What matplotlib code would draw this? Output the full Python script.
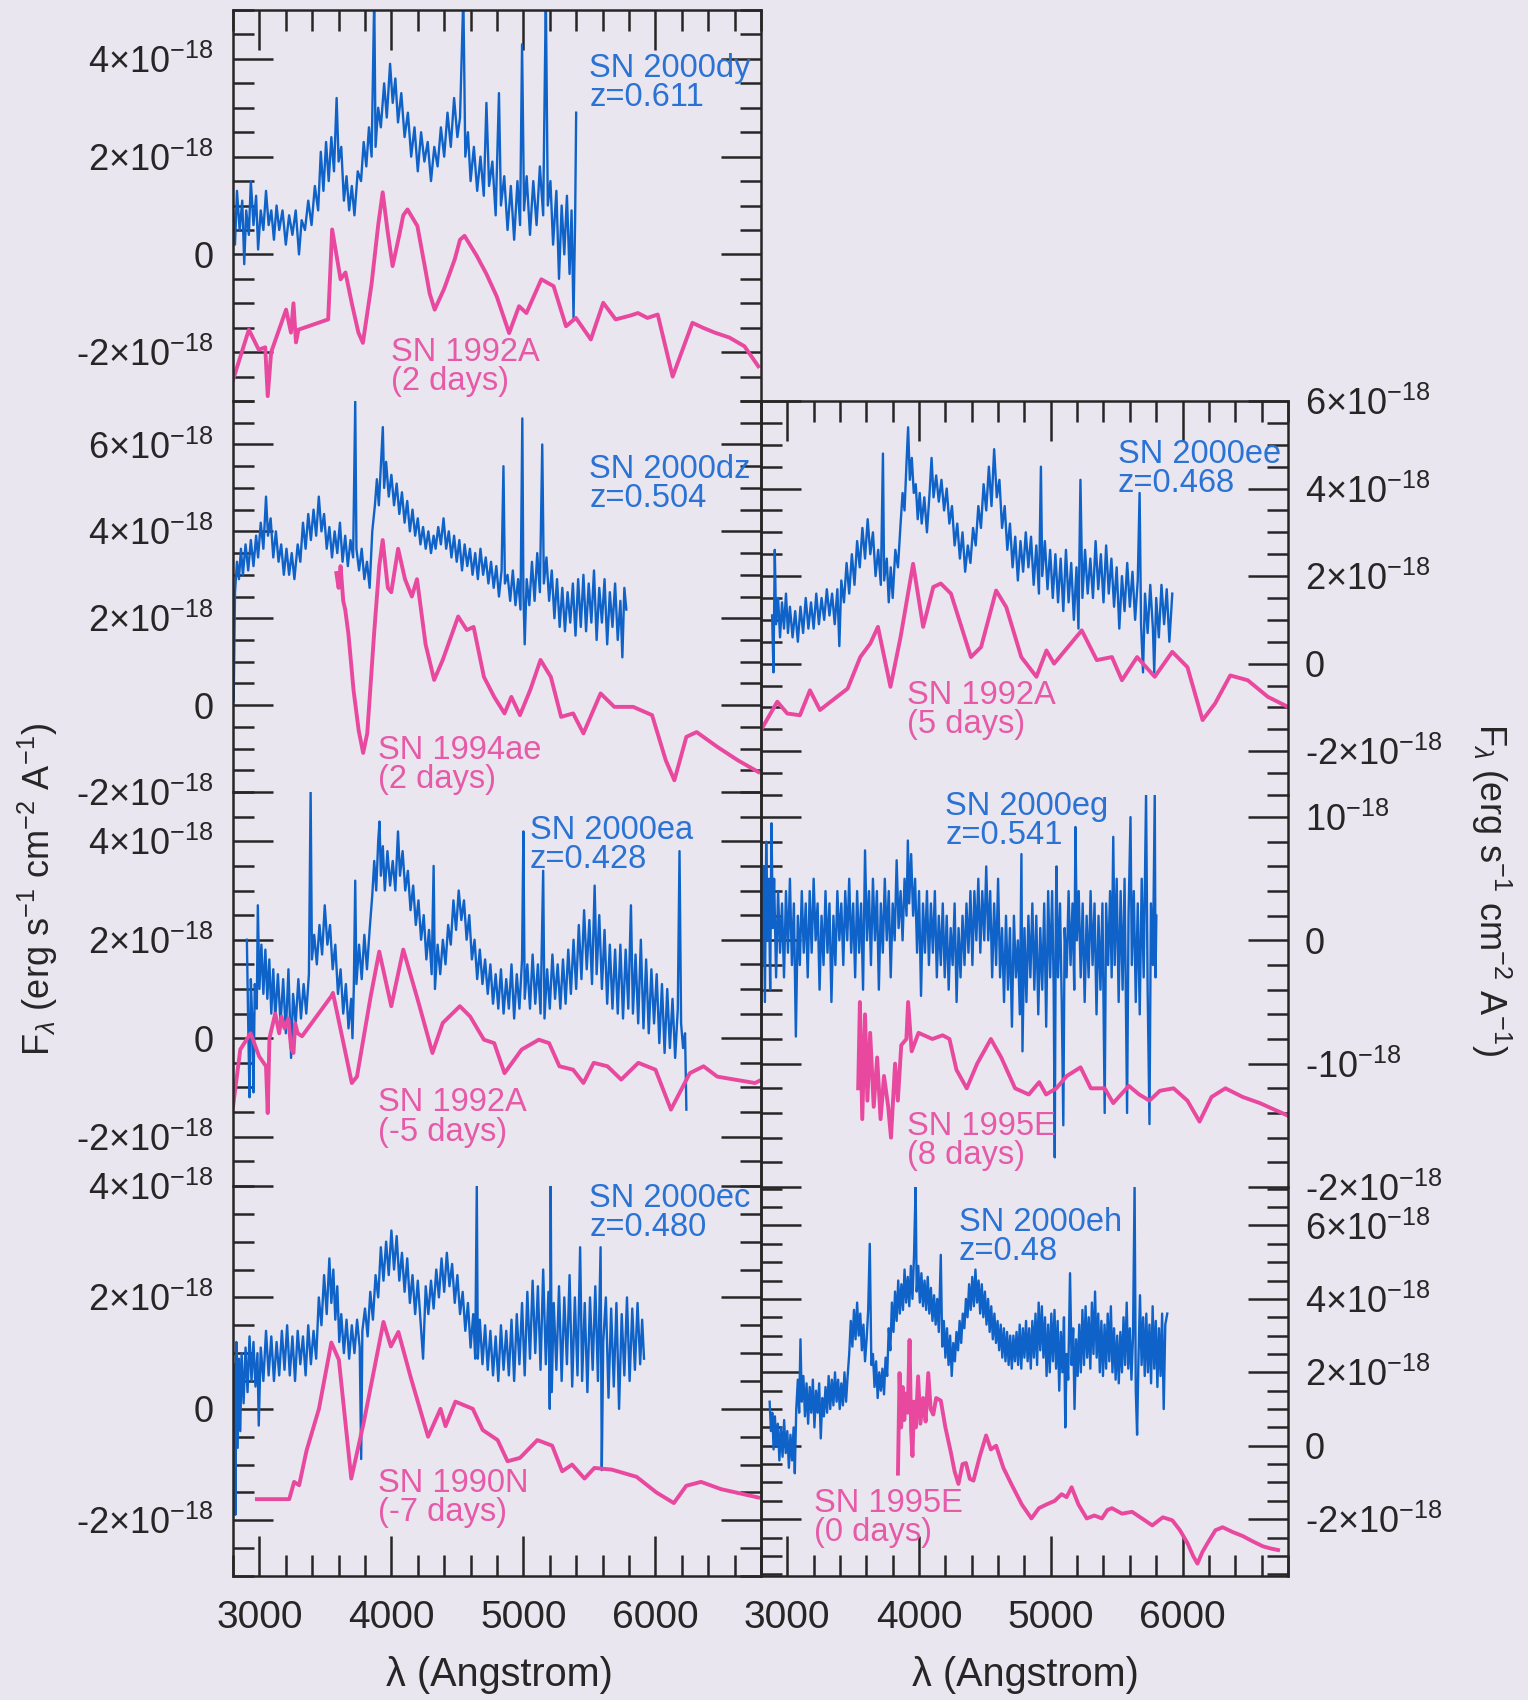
import matplotlib
matplotlib.use("Agg")
import matplotlib.pyplot as plt
from matplotlib.ticker import MultipleLocator, FuncFormatter

plt.rcParams['font.family'] = ['Liberation Sans', 'DejaVu Sans']
plt.rcParams['mathtext.fontset'] = 'custom'
plt.rcParams['mathtext.rm'] = 'Liberation Sans'
plt.rcParams['mathtext.it'] = 'Liberation Sans:italic'
plt.rcParams['mathtext.bf'] = 'Liberation Sans:bold'

BG = '#e9e6ef'
INK = '#262626'
BLUE = '#0f62c8'
BLUE_TXT = '#2a72d4'
PINK = '#e8489e'
PINK_TXT = '#e65aa8'

# flux in units of 1e-18 erg/s/cm^2/A, wavelength in Angstrom (rest frame)

# --- SN 2000dy (z=0.611) vs SN 1992A (+2 d)
dy = [(2800, 0.9), (2815, 0.2), (2830, 1.3), (2850, 0.5), (2870, 1.1), (2885, -0.2), (2900, 0.9),
      (2920, 0.4), (2935, 1.5), (2955, 0.6), (2975, 1.2), (2990, 0.1), (3010, 0.9), (3030, 0.5),
      (3050, 1.3), (3070, 0.6), (3090, 0.9), (3110, 0.3), (3130, 1.0), (3150, 0.5), (3175, 0.9),
      (3200, 0.2), (3225, 0.8), (3250, 0.4), (3275, 0.9), (3300, 0.0), (3320, 0.7), (3345, 0.5),
      (3370, 1.1), (3395, 0.6), (3420, 1.4), (3445, 0.9), (3465, 2.1), (3485, 1.3), (3505, 2.3),
      (3525, 1.5), (3545, 2.4), (3565, 1.7), (3585, 3.2), (3600, 1.9), (3620, 2.2), (3640, 1.1),
      (3660, 1.6), (3680, 0.9), (3700, 1.4), (3720, 0.8), (3745, 1.7), (3770, 1.5), (3790, 2.3),
      (3810, 1.8), (3830, 2.6), (3850, 2.0), (3870, 5.3), (3880, 2.2), (3900, 3.0), (3920, 2.6),
      (3945, 3.5), (3965, 2.8), (3990, 3.9), (4010, 3.1), (4030, 3.6), (4050, 2.7), (4075, 3.3),
      (4100, 2.4), (4125, 2.9), (4150, 2.0), (4175, 2.6), (4200, 1.7), (4225, 2.5), (4250, 1.9),
      (4275, 2.3), (4300, 1.5), (4325, 2.2), (4350, 1.8), (4375, 2.6), (4400, 2.0), (4425, 2.9),
      (4450, 2.2), (4475, 3.2), (4500, 2.4), (4520, 2.8), (4545, 5.3), (4560, 2.0), (4580, 2.5),
      (4600, 1.5), (4625, 2.2), (4650, 1.3), (4675, 2.0), (4700, 1.2), (4720, 3.1), (4740, 1.4),
      (4765, 1.9), (4790, 0.8), (4815, 3.3), (4830, 1.0), (4855, 1.6), (4880, 0.5), (4905, 1.4),
      (4930, 0.3), (4955, 1.5), (4975, 0.6), (4990, 4.3), (5005, 0.9), (5025, 1.6), (5050, 0.4),
      (5075, 1.5), (5100, 0.6), (5125, 1.8), (5150, 0.8), (5170, 5.3), (5185, 1.0), (5205, 1.5),
      (5225, 0.2), (5250, 1.3), (5270, -0.5), (5290, 1.0), (5310, 0.0), (5330, 1.2), (5350, -0.4),
      (5365, 0.9), (5380, -1.3), (5392, 0.7), (5400, 2.9)]
sn92a_p2 = [(2800, -2.57), (2920, -1.54), (2995, -1.95), (3044, -1.9), (3063, -2.9), (3089, -2.0),
            (3202, -1.13), (3239, -1.6), (3258, -1.0), (3277, -1.8), (3296, -1.54), (3521, -1.33),
            (3551, 0.51), (3615, -0.51), (3652, -0.37), (3700, -1.0), (3750, -1.6), (3784, -1.81),
            (3850, -0.6), (3900, 0.6), (3934, 1.27), (3970, 0.5), (4009, -0.24), (4060, 0.4),
            (4090, 0.8), (4122, 0.92), (4197, 0.58), (4250, -0.2), (4290, -0.8), (4328, -1.13),
            (4400, -0.7), (4480, -0.1), (4520, 0.3), (4554, 0.38), (4647, -0.03), (4720, -0.4),
            (4798, -0.86), (4892, -1.61), (4967, -1.06), (5023, -1.2), (5136, -0.51), (5229, -0.65),
            (5323, -1.47), (5398, -1.3), (5511, -1.74), (5605, -0.99), (5699, -1.33), (5812, -1.25),
            (5868, -1.2), (5940, -1.3), (6018, -1.23), (6131, -2.5), (6281, -1.4), (6360, -1.5),
            (6450, -1.6), (6560, -1.7), (6675, -1.88), (6780, -2.29)]

# --- SN 2000dz (z=0.504) vs SN 1994ae (+2 d)
dz = [(2805, 0.1), (2815, 2.6), (2830, 3.3), (2845, 2.9), (2860, 3.6), (2875, 3.0), (2895, 3.7),
      (2915, 3.1), (2935, 3.8), (2955, 3.2), (2975, 3.9), (2990, 3.4), (3010, 4.2), (3030, 3.6),
      (3050, 4.8), (3065, 3.9), (3085, 4.3), (3105, 3.4), (3125, 4.0), (3145, 3.3), (3165, 3.7),
      (3185, 3.0), (3205, 3.6), (3225, 3.0), (3245, 3.5), (3265, 2.9), (3290, 3.7), (3310, 3.3),
      (3330, 4.2), (3350, 3.6), (3370, 4.4), (3390, 3.8), (3410, 4.5), (3430, 3.9), (3450, 4.8),
      (3470, 4.0), (3490, 4.4), (3510, 3.6), (3530, 4.1), (3550, 3.4), (3570, 4.0), (3590, 3.5),
      (3610, 4.2), (3630, 3.3), (3650, 3.9), (3670, 3.2), (3690, 3.8), (3710, 3.4), (3726, 7.0),
      (3735, 3.6), (3755, 3.1), (3775, 3.6), (3795, 2.9), (3815, 3.3), (3835, 2.7), (3855, 4.0),
      (3875, 4.6), (3890, 5.2), (3905, 4.6), (3920, 5.5), (3935, 6.4), (3945, 5.0), (3960, 5.6),
      (3980, 4.8), (4000, 5.3), (4020, 4.6), (4040, 5.1), (4060, 4.4), (4080, 4.9), (4100, 4.2),
      (4120, 4.7), (4140, 4.0), (4160, 4.5), (4180, 3.9), (4200, 4.3), (4220, 3.7), (4240, 4.1),
      (4260, 3.6), (4280, 4.0), (4300, 3.5), (4320, 3.9), (4335, 3.6), (4355, 4.1), (4375, 3.7),
      (4395, 4.3), (4415, 3.6), (4435, 4.0), (4455, 3.4), (4475, 3.9), (4495, 3.3), (4515, 3.8),
      (4535, 3.1), (4555, 3.7), (4575, 3.2), (4595, 3.6), (4615, 3.0), (4635, 3.5), (4655, 2.9),
      (4675, 3.6), (4695, 3.0), (4715, 3.4), (4735, 2.8), (4755, 3.3), (4775, 2.7), (4795, 3.2),
      (4815, 2.5), (4835, 3.1), (4849, 5.5), (4860, 2.8), (4880, 3.0), (4900, 2.4), (4920, 3.1),
      (4940, 2.3), (4960, 2.9), (4978, 2.2), (4992, 6.6), (5000, 2.6), (5010, 1.4), (5025, 2.9),
      (5045, 2.3), (5065, 3.3), (5085, 2.4), (5105, 3.5), (5125, 2.6), (5143, 6.0), (5155, 2.8),
      (5175, 3.4), (5195, 2.4), (5215, 3.1), (5235, 2.0), (5255, 2.9), (5275, 1.8), (5295, 2.7),
      (5315, 1.7), (5335, 2.6), (5355, 1.9), (5375, 2.8), (5395, 1.6), (5415, 2.9), (5435, 1.8),
      (5455, 3.0), (5475, 1.7), (5495, 2.8), (5515, 1.9), (5535, 3.1), (5555, 1.5), (5575, 2.7),
      (5595, 1.9), (5615, 2.9), (5635, 1.4), (5655, 2.6), (5675, 1.8), (5695, 2.8), (5715, 1.5),
      (5735, 2.4), (5750, 1.1), (5765, 2.7), (5780, 2.2)]
sn94ae = [(3583, 3.04), (3600, 2.7), (3615, 3.2), (3635, 2.4), (3650, 2.2), (3674, 1.65),
          (3713, 0.35), (3752, -0.58), (3786, -1.1), (3817, -0.65), (3869, 1.65), (3908, 3.2),
          (3934, 3.8), (3973, 2.7), (3999, 2.6), (4051, 3.6), (4103, 2.9), (4155, 2.5), (4194, 2.9),
          (4259, 1.4), (4324, 0.58), (4389, 1.04), (4506, 2.04), (4571, 1.73), (4623, 1.8),
          (4701, 0.65), (4779, 0.19), (4857, -0.19), (4909, 0.19), (4974, -0.23), (5052, 0.35),
          (5130, 1.04), (5208, 0.65), (5286, -0.27), (5377, -0.19), (5455, -0.65), (5585, 0.27),
          (5689, -0.04), (5832, -0.04), (5975, -0.23), (6079, -1.27), (6144, -1.73), (6235, -0.73),
          (6313, -0.62), (6469, -0.96), (6625, -1.27), (6781, -1.54)]

# --- SN 2000ea (z=0.428) vs SN 1992A (-5 d)
ea = [(2905, 2.0), (2915, 0.3), (2925, -1.2), (2935, 1.2), (2945, 0.4), (2955, -1.1), (2965, 1.1),
      (2980, 0.6), (2988, 2.7), (3000, 1.0), (3015, 1.9), (3030, 0.9), (3045, 1.8), (3060, 0.8),
      (3075, 1.6), (3090, 0.5), (3105, 1.4), (3120, 0.4), (3140, 1.3), (3160, 0.3), (3180, 1.2),
      (3200, 0.1), (3220, 1.4), (3240, -0.4), (3255, 0.9), (3275, 0.3), (3295, 1.2), (3315, 0.4),
      (3335, 1.1), (3355, 0.5), (3375, 1.3), (3388, 5.0), (3398, 1.6), (3415, 2.1), (3435, 1.5),
      (3455, 2.3), (3475, 1.7), (3495, 2.7), (3515, 1.9), (3535, 2.3), (3555, 1.4), (3575, 1.9),
      (3595, 0.9), (3615, 1.4), (3635, 0.5), (3655, 1.1), (3675, 0.2), (3695, 0.8), (3705, 0.0),
      (3715, 1.0), (3726, 3.2), (3735, 1.1), (3755, 1.9), (3775, 1.2), (3795, 2.1), (3815, 1.4),
      (3835, 2.2), (3855, 2.9), (3870, 3.6), (3885, 3.0), (3900, 4.0), (3910, 4.4), (3920, 3.3),
      (3935, 3.9), (3950, 3.0), (3970, 3.8), (3990, 3.1), (4010, 3.6), (4030, 3.0), (4050, 4.2),
      (4065, 3.3), (4085, 3.8), (4105, 3.0), (4125, 3.4), (4145, 2.6), (4165, 3.1), (4185, 2.3),
      (4205, 2.8), (4225, 2.0), (4245, 2.5), (4265, 1.6), (4285, 2.2), (4305, 1.3), (4320, 3.5),
      (4330, 1.0), (4350, 1.9), (4370, 1.3), (4390, 2.0), (4410, 1.5), (4430, 2.3), (4450, 1.9),
      (4470, 2.8), (4490, 2.2), (4510, 3.0), (4530, 2.4), (4550, 2.8), (4570, 2.0), (4590, 2.5),
      (4610, 1.6), (4630, 2.0), (4650, 1.2), (4670, 1.8), (4690, 1.1), (4710, 1.6), (4730, 0.9),
      (4750, 1.5), (4770, 0.7), (4790, 1.3), (4810, 0.6), (4830, 1.4), (4850, 0.5), (4870, 1.2),
      (4890, 0.6), (4910, 1.5), (4930, 0.4), (4950, 1.3), (4970, 0.6), (4990, 1.6), (5000, 4.2),
      (5010, 0.8), (5030, 1.5), (5050, 0.6), (5070, 1.7), (5090, 0.7), (5110, 1.5), (5130, 0.5),
      (5150, 3.4), (5160, 0.4), (5180, 1.4), (5200, 0.6), (5220, 1.7), (5240, 0.8), (5260, 1.5),
      (5280, 0.6), (5300, 1.6), (5320, 0.7), (5340, 1.8), (5360, 0.9), (5380, 2.0), (5400, 1.0),
      (5420, 2.3), (5440, 1.2), (5460, 2.6), (5480, 1.4), (5500, 2.4), (5520, 1.1), (5540, 3.1),
      (5555, 1.3), (5575, 2.5), (5595, 1.0), (5615, 2.2), (5635, 0.7), (5655, 1.9), (5675, 0.6),
      (5695, 1.8), (5715, 0.5), (5735, 1.9), (5755, 0.4), (5775, 1.8), (5795, 0.6), (5815, 2.7),
      (5830, 0.5), (5850, 1.7), (5870, 0.3), (5890, 2.0), (5910, 0.2), (5930, 1.6), (5950, 0.1),
      (5970, 1.4), (5990, 0.3), (6010, 1.3), (6030, -0.1), (6050, 1.1), (6070, -0.3), (6090, 1.0),
      (6110, -0.2), (6130, 0.8), (6150, -0.4), (6170, 0.6), (6183, 3.8), (6195, 0.3), (6210, -0.2),
      (6225, 0.1), (6235, -1.45)]
sn92a_m5 = [(2800, -1.39), (2855, -0.23), (2933, 0.1), (2998, -0.37), (3050, -0.57), (3063, -1.52),
            (3076, 0.0), (3120, 0.5), (3150, 0.1), (3167, 0.44), (3190, 0.2), (3219, 0.4),
            (3240, -0.2), (3258, -0.3), (3271, 0.3), (3290, 0.1), (3323, 0.04), (3544, 0.85),
            (3557, 0.92), (3700, -0.91), (3739, -0.78), (3843, 0.85), (3908, 1.76), (3999, 0.65),
            (4090, 1.8), (4207, 0.71), (4311, -0.3), (4389, 0.31), (4519, 0.65), (4597, 0.44),
            (4701, -0.03), (4779, -0.1), (4857, -0.71), (4987, -0.23), (5117, -0.03), (5195, -0.1),
            (5273, -0.57), (5377, -0.64), (5455, -0.91), (5533, -0.5), (5637, -0.57), (5741, -0.84),
            (5871, -0.5), (6001, -0.64), (6118, -1.45), (6261, -0.71), (6365, -0.57), (6469, -0.78),
            (6599, -0.84), (6755, -0.91), (6800, -0.85)]

# --- SN 2000ec (z=0.480) vs SN 1990N (-7 d)
ec = [(2812, 0.8), (2818, -1.9), (2825, 1.2), (2835, -0.7), (2845, 0.9), (2855, -0.4), (2865, 1.0),
      (2880, 0.1), (2895, 1.1), (2910, 0.3), (2925, 1.3), (2940, 0.5), (2955, 1.2), (2970, 0.4),
      (2985, 1.0), (2995, -0.3), (3010, 1.1), (3030, 0.5), (3050, 1.4), (3070, 0.6), (3090, 1.3),
      (3110, 0.5), (3130, 1.2), (3150, 0.6), (3170, 1.4), (3190, 0.7), (3210, 1.5), (3230, 0.6),
      (3250, 1.3), (3270, 0.5), (3290, 1.4), (3310, 0.8), (3330, 1.3), (3350, 0.6), (3370, 1.5),
      (3390, 0.8), (3410, 1.4), (3430, 0.9), (3450, 2.0), (3470, 1.5), (3490, 2.4), (3510, 1.7),
      (3530, 2.7), (3545, 1.9), (3560, 2.5), (3575, 1.6), (3590, 2.2), (3605, 1.2), (3620, 1.7),
      (3640, 1.0), (3660, 1.6), (3680, 0.9), (3700, 1.5), (3720, 1.0), (3740, 1.6), (3760, 1.1),
      (3771, -0.9), (3780, 1.4), (3800, 1.8), (3820, 1.3), (3840, 2.1), (3860, 1.6), (3880, 2.4),
      (3900, 2.0), (3920, 2.9), (3940, 2.3), (3960, 3.0), (3980, 2.4), (4000, 3.2), (4020, 2.5),
      (4040, 3.1), (4060, 2.3), (4080, 2.8), (4100, 2.1), (4120, 2.7), (4140, 1.9), (4160, 2.4),
      (4180, 1.7), (4200, 2.3), (4220, 1.6), (4240, 0.9), (4260, 2.2), (4280, 1.7), (4300, 2.3),
      (4320, 1.8), (4340, 2.5), (4360, 2.0), (4380, 2.7), (4400, 2.1), (4420, 2.8), (4440, 2.2),
      (4460, 2.6), (4480, 1.9), (4500, 2.4), (4520, 1.7), (4540, 2.1), (4560, 1.4), (4580, 1.9),
      (4600, 1.1), (4620, 1.7), (4635, 0.9), (4647, 4.0), (4655, 0.9), (4670, 1.6), (4690, 0.8),
      (4710, 1.5), (4730, 0.7), (4750, 1.4), (4770, 0.6), (4790, 1.3), (4810, 0.5), (4830, 1.5),
      (4850, 0.7), (4870, 1.4), (4890, 0.6), (4910, 1.6), (4930, 0.5), (4950, 1.7), (4970, 0.8),
      (4990, 1.9), (5010, 0.6), (5030, 2.1), (5050, 0.9), (5070, 2.3), (5090, 1.0), (5110, 2.2),
      (5130, 0.7), (5150, 2.5), (5170, 0.8), (5190, 2.1), (5200, 0.0), (5207, 4.0), (5215, 0.3),
      (5230, 1.9), (5250, 0.7), (5270, 2.2), (5290, 0.5), (5310, 2.0), (5330, 0.8), (5350, 2.4),
      (5370, 0.4), (5390, 2.0), (5410, 0.6), (5430, 2.9), (5445, 0.5), (5465, 1.9), (5485, 0.3),
      (5505, 2.0), (5525, 0.7), (5545, 2.2), (5565, 0.5), (5585, 2.9), (5594, -1.1), (5605, 1.2),
      (5625, 2.0), (5645, 0.2), (5665, 1.8), (5685, 0.4), (5705, 1.9), (5725, 0.0), (5745, 1.7),
      (5765, 0.6), (5785, 2.0), (5805, 0.5), (5825, 1.8), (5845, 0.7), (5865, 1.9), (5885, 0.8),
      (5900, 1.6), (5914, 0.9)]
sn90n = [(2981, -1.62), (3226, -1.62), (3263, -1.31), (3301, -1.37), (3357, -0.75), (3451, 0.0),
         (3545, 1.19), (3602, 0.88), (3696, -1.25), (3790, -0.25), (3940, 1.56), (3996, 1.12),
         (4053, 1.38), (4147, 0.56), (4278, -0.5), (4372, 0.0), (4410, -0.31), (4485, 0.13),
         (4617, 0.0), (4692, -0.38), (4805, -0.56), (4880, -0.94), (4974, -0.88), (5106, -0.56),
         (5218, -0.66), (5294, -1.12), (5369, -1.0), (5463, -1.25), (5538, -1.06), (5670, -1.09),
         (5858, -1.22), (6008, -1.5), (6140, -1.69), (6234, -1.38), (6346, -1.31), (6497, -1.44),
         (6779, -1.59)]

# --- SN 2000ee (z=0.468) vs SN 1992A (+5 d)
ee = [(2885, 1.1), (2895, -0.2), (2905, 2.6), (2915, 0.9), (2930, 1.5), (2945, 0.6), (2960, 1.4),
      (2975, 0.8), (2990, 1.6), (3005, 0.7), (3020, 1.3), (3040, 0.6), (3060, 1.2), (3080, 0.5),
      (3100, 1.3), (3120, 0.7), (3140, 1.5), (3160, 0.8), (3180, 1.4), (3200, 0.8), (3220, 1.6),
      (3240, 0.9), (3260, 1.5), (3280, 1.0), (3300, 1.7), (3320, 1.1), (3340, 1.6), (3360, 0.9),
      (3380, 1.7), (3395, 0.4), (3410, 1.9), (3430, 1.4), (3450, 2.3), (3470, 1.6), (3490, 2.5),
      (3510, 1.8), (3530, 2.8), (3550, 2.2), (3570, 3.1), (3590, 2.4), (3610, 3.3), (3630, 2.5),
      (3650, 3.0), (3670, 2.0), (3690, 2.6), (3710, 1.8), (3726, 4.8), (3735, 1.9), (3755, 2.4),
      (3770, 1.4), (3785, 2.2), (3800, 1.5), (3820, 2.6), (3840, 2.2), (3860, 3.2), (3875, 3.9),
      (3890, 3.5), (3905, 4.6), (3917, 5.4), (3930, 4.2), (3945, 4.7), (3960, 3.9), (3975, 4.1),
      (3990, 3.3), (4005, 3.9), (4020, 3.2), (4040, 3.8), (4060, 3.0), (4080, 3.9), (4095, 4.7),
      (4110, 3.8), (4130, 4.3), (4150, 3.7), (4170, 4.2), (4190, 3.5), (4210, 4.0), (4230, 3.2),
      (4250, 3.6), (4270, 2.7), (4290, 3.2), (4310, 2.4), (4330, 3.0), (4350, 2.1), (4370, 2.7),
      (4390, 2.3), (4410, 3.1), (4430, 2.7), (4450, 3.6), (4470, 3.1), (4490, 4.1), (4510, 3.5),
      (4530, 4.5), (4550, 3.6), (4570, 4.9), (4590, 3.8), (4610, 4.2), (4630, 3.1), (4650, 3.6),
      (4670, 2.6), (4690, 3.2), (4710, 2.2), (4730, 2.9), (4750, 1.9), (4770, 2.8), (4790, 2.1),
      (4810, 3.0), (4830, 2.2), (4850, 2.9), (4870, 1.8), (4890, 2.7), (4910, 1.6), (4925, 4.5),
      (4935, 2.0), (4955, 2.8), (4975, 1.7), (4995, 2.6), (5015, 1.5), (5035, 2.5), (5055, 1.4),
      (5075, 2.4), (5095, 1.2), (5115, 2.6), (5135, 1.4), (5155, 2.3), (5175, 1.0), (5195, 2.2),
      (5210, 0.8), (5225, 4.2), (5240, 1.5), (5260, 2.6), (5280, 1.6), (5300, 2.4), (5320, 1.5),
      (5340, 2.8), (5360, 1.7), (5380, 2.5), (5400, 1.4), (5420, 2.7), (5440, 1.6), (5460, 2.4),
      (5480, 1.3), (5500, 2.2), (5520, 0.8), (5540, 2.0), (5560, 1.2), (5580, 2.3), (5600, 1.3),
      (5620, 2.1), (5640, 1.0), (5660, 1.9), (5674, 3.9), (5685, 0.9), (5700, -0.2), (5715, 1.6),
      (5735, 0.7), (5755, 1.8), (5775, 0.8), (5785, -0.2), (5800, 1.5), (5820, 0.6), (5840, 1.8),
      (5860, 0.9), (5880, 1.7), (5900, 0.5), (5922, 1.6)]
sn92a_p5 = [(2800, -1.52), (2924, -0.87), (3000, -1.14), (3096, -1.18), (3172, -0.61), (3248, -1.06),
            (3458, -0.57), (3554, 0.15), (3630, 0.46), (3688, 0.84), (3783, -0.53), (3860, 0.61),
            (3955, 2.28), (4031, 0.84), (4108, 1.75), (4165, 1.83), (4242, 1.6), (4394, 0.15),
            (4471, 0.38), (4585, 1.67), (4662, 1.29), (4776, 0.15), (4891, -0.3), (4967, 0.3),
            (5025, 0.0), (5235, 0.76), (5349, 0.08), (5464, 0.15), (5540, -0.38), (5655, 0.15),
            (5789, -0.3), (5922, 0.27), (6037, -0.08), (6152, -1.29), (6247, -0.91), (6362, -0.27),
            (6495, -0.38), (6648, -0.76), (6801, -0.99)]

# --- SN 2000eg (z=0.541) vs SN 1995E (+8 d)
eg = [(2800, 0.9), (2810, -0.2), (2820, 0.6), (2830, -0.5), (2840, 0.8), (2850, 0.0), (2860, 0.5),
      (2870, -0.4), (2880, 0.95), (2890, 0.1), (2900, 0.5), (2915, -0.3), (2930, 0.4), (2945, -0.1),
      (2960, 0.3), (2975, -0.3), (2990, 0.4), (3005, -0.1), (3020, 0.5), (3035, -0.2), (3050, 0.3),
      (3065, -0.78), (3080, 0.2), (3095, -0.2), (3110, 0.4), (3125, -0.1), (3140, 0.3), (3155, -0.3),
      (3170, 0.4), (3185, -0.1), (3200, 0.5), (3215, 0.0), (3230, 0.3), (3245, -0.4), (3260, 0.2),
      (3275, -0.2), (3290, 0.4), (3305, -0.1), (3320, 0.3), (3335, -0.5), (3350, 0.2), (3365, -0.2),
      (3380, 0.4), (3395, 0.0), (3410, 0.3), (3425, -0.2), (3440, 0.4), (3455, 0.0), (3470, 0.5),
      (3485, -0.1), (3500, 0.3), (3515, -0.3), (3530, 0.4), (3545, -0.1), (3560, 0.3), (3575, -0.4),
      (3590, 0.73), (3605, 0.0), (3620, 0.4), (3635, -0.2), (3650, 0.5), (3665, 0.0), (3680, 0.4),
      (3695, -0.4), (3710, 0.3), (3725, -0.1), (3740, 0.5), (3755, 0.0), (3770, 0.4), (3785, -0.3),
      (3800, 0.3), (3815, 0.0), (3830, 0.65), (3845, 0.1), (3860, 0.4), (3875, 0.0), (3890, 0.5),
      (3905, 0.2), (3915, 0.81), (3925, 0.3), (3940, 0.7), (3955, 0.2), (3970, 0.5), (3985, -0.1),
      (4000, 0.4), (4015, -0.45), (4030, 0.3), (4045, -0.1), (4060, 0.4), (4075, -0.2), (4090, 0.3),
      (4105, -0.1), (4120, 0.4), (4135, -0.3), (4150, 0.2), (4165, -0.2), (4180, 0.3), (4195, -0.3),
      (4210, 0.2), (4225, -0.4), (4240, 0.1), (4255, -0.2), (4270, 0.3), (4285, -0.5), (4300, 0.1),
      (4315, -0.3), (4330, 0.2), (4345, -0.2), (4360, 0.3), (4375, -0.1), (4390, 0.4), (4405, -0.2),
      (4420, 0.4), (4435, 0.0), (4450, 0.5), (4465, -0.1), (4480, 0.4), (4495, 0.0), (4510, 0.6),
      (4525, 0.0), (4540, 0.4), (4555, -0.3), (4570, 0.3), (4585, -0.2), (4600, 0.5), (4615, -0.3),
      (4630, 0.1), (4645, -0.5), (4660, 0.2), (4675, -0.4), (4690, 0.1), (4705, -0.7), (4720, 0.2),
      (4735, -0.3), (4750, 0.0), (4765, -0.6), (4777, 0.7), (4785, -0.9), (4800, 0.1), (4815, -0.5),
      (4830, 0.2), (4845, -0.3), (4860, 0.3), (4875, -0.4), (4890, 0.2), (4905, -0.6), (4920, 0.1),
      (4935, -0.4), (4950, 0.3), (4965, -0.7), (4980, 0.4), (4995, -0.3), (5010, 0.4), (5022, -0.4),
      (5030, -1.76), (5038, 0.2), (5043, 0.6), (5055, -0.3), (5070, 0.3), (5083, -0.5), (5095, -1.5),
      (5105, 0.1), (5120, -0.3), (5135, 0.4), (5150, -0.2), (5165, 0.3), (5178, -0.4), (5187, 0.92),
      (5198, 0.0), (5212, 0.4), (5227, -0.3), (5242, 0.3), (5257, -0.5), (5272, 0.2), (5287, -0.3),
      (5302, 0.4), (5317, -0.2), (5332, 0.3), (5347, -0.6), (5362, 0.2), (5377, -0.4), (5392, 0.3),
      (5409, -1.4), (5420, 0.3), (5435, -0.2), (5450, 0.4), (5462, -0.3), (5474, 0.84), (5485, -0.2),
      (5500, 0.5), (5515, -0.5), (5530, 0.4), (5545, -0.4), (5560, 0.5), (5579, -1.4), (5590, 0.2),
      (5605, 1.0), (5615, -0.2), (5630, 0.4), (5645, -0.5), (5660, 0.3), (5675, -0.6), (5690, 0.5),
      (5705, -0.3), (5723, 1.19), (5735, -0.4), (5749, -1.49), (5760, 0.3), (5775, -0.2),
      (5789, 1.19), (5795, -0.3), (5801, 0.2)]
sn95e_p8 = [(3538, -1.2), (3551, -0.5), (3569, -1.45), (3590, -0.6), (3608, -1.3), (3629, -0.75),
            (3656, -1.35), (3682, -0.95), (3708, -1.45), (3734, -1.1), (3766, -1.35), (3787, -1.6),
            (3818, -1.0), (3839, -1.3), (3865, -0.85), (3904, -0.8), (3917, -0.5), (3944, -0.9),
            (3996, -0.75), (4101, -0.8), (4179, -0.77), (4231, -0.8), (4284, -1.05), (4362, -1.2),
            (4441, -1.0), (4545, -0.8), (4624, -0.95), (4729, -1.2), (4833, -1.25), (4912, -1.15),
            (4964, -1.25), (5042, -1.2), (5121, -1.1), (5226, -1.03), (5304, -1.2), (5409, -1.2),
            (5474, -1.32), (5592, -1.18), (5671, -1.25), (5749, -1.3), (5828, -1.22), (5932, -1.2),
            (6037, -1.3), (6129, -1.47), (6220, -1.27), (6325, -1.2), (6456, -1.27), (6587, -1.32),
            (6796, -1.42)]

# --- SN 2000eh (z=0.48) vs SN 1995E (0 d)
eh = [(2866, 1.2), (2876, 0.4), (2886, 0.9), (2896, -0.1), (2906, 0.8), (2916, 0.0), (2928, 0.6),
      (2940, -0.4), (2952, 0.5), (2964, -0.3), (2976, 0.7), (2988, -0.2), (3000, 0.4), (3012, -0.6),
      (3024, 0.3), (3036, -0.4), (3048, 0.5), (3057, -0.75), (3068, 1.0), (3080, 1.8), (3090, 0.9),
      (3100, 2.9), (3110, 1.2), (3122, 1.9), (3134, 0.8), (3146, 1.7), (3158, 0.6), (3170, 1.6),
      (3182, 0.9), (3194, 1.8), (3206, 0.5), (3218, 1.5), (3230, 0.9), (3242, 1.7), (3254, 0.2),
      (3266, 1.3), (3278, 0.8), (3290, 1.6), (3302, 0.9), (3314, 1.9), (3326, 1.0), (3338, 1.8),
      (3350, 1.1), (3362, 2.0), (3374, 1.2), (3386, 1.8), (3398, 1.0), (3410, 1.7), (3422, 1.1),
      (3434, 2.0), (3446, 1.2), (3458, 1.9), (3470, 2.5), (3482, 3.4), (3494, 2.7), (3506, 3.7),
      (3518, 2.9), (3530, 3.9), (3542, 3.0), (3554, 3.6), (3566, 2.6), (3578, 3.3), (3590, 2.3),
      (3602, 2.9), (3614, 3.7), (3626, 5.5), (3638, 2.2), (3650, 2.5), (3662, 1.6), (3674, 2.3),
      (3686, 1.3), (3698, 2.0), (3710, 1.5), (3722, 2.1), (3734, 1.4), (3746, 2.4), (3758, 1.9),
      (3770, 3.2), (3782, 2.6), (3794, 3.9), (3806, 3.1), (3818, 4.2), (3830, 3.4), (3842, 4.5),
      (3854, 3.6), (3866, 4.4), (3878, 3.7), (3890, 4.8), (3902, 3.9), (3914, 4.6), (3926, 3.8),
      (3938, 4.9), (3950, 4.0), (3962, 5.2), (3974, 7.1), (3982, 4.2), (3994, 4.9), (4006, 3.9),
      (4018, 4.7), (4030, 3.8), (4042, 4.5), (4054, 3.7), (4066, 4.6), (4078, 3.6), (4090, 4.3),
      (4102, 3.4), (4114, 4.1), (4126, 3.3), (4138, 4.0), (4150, 3.1), (4165, 5.2), (4176, 2.7),
      (4188, 3.4), (4200, 2.4), (4212, 3.2), (4224, 2.2), (4236, 3.0), (4248, 1.9), (4260, 2.8),
      (4272, 2.3), (4284, 3.1), (4296, 2.6), (4308, 3.4), (4320, 2.8), (4332, 3.6), (4344, 3.2),
      (4356, 4.0), (4368, 3.5), (4380, 4.4), (4392, 3.7), (4404, 4.6), (4416, 3.8), (4428, 4.8),
      (4440, 3.9), (4452, 4.5), (4464, 3.6), (4476, 4.4), (4488, 3.5), (4500, 4.2), (4512, 3.3),
      (4524, 4.0), (4536, 3.1), (4548, 3.8), (4560, 2.9), (4572, 3.6), (4584, 2.8), (4596, 3.4),
      (4608, 2.6), (4620, 3.3), (4632, 2.4), (4644, 3.2), (4656, 2.3), (4668, 3.1), (4680, 2.2),
      (4692, 3.0), (4704, 2.1), (4716, 3.0), (4728, 2.3), (4740, 3.1), (4752, 2.2), (4764, 3.3),
      (4776, 2.1), (4788, 3.2), (4800, 2.4), (4812, 3.4), (4824, 2.3), (4836, 3.2), (4848, 2.1),
      (4860, 3.4), (4872, 2.4), (4884, 3.6), (4896, 2.2), (4908, 3.9), (4920, 2.6), (4932, 3.8),
      (4944, 2.4), (4956, 3.5), (4968, 1.9), (4980, 3.3), (4992, 2.0), (5004, 3.6), (5016, 2.3),
      (5028, 3.7), (5040, 2.1), (5052, 3.4), (5064, 1.5), (5076, 3.1), (5088, 2.0), (5100, 3.5),
      (5110, 0.5), (5120, 2.5), (5132, 1.8), (5146, 4.7), (5158, 2.2), (5170, 3.2), (5180, 1.0),
      (5192, 2.9), (5204, 1.9), (5216, 3.3), (5228, 2.0), (5240, 3.7), (5252, 2.2), (5264, 3.8),
      (5276, 2.4), (5288, 3.5), (5300, 2.1), (5312, 3.9), (5324, 2.5), (5336, 4.2), (5348, 2.4),
      (5360, 3.6), (5372, 2.0), (5384, 3.4), (5396, 1.9), (5408, 3.3), (5420, 2.1), (5432, 3.6),
      (5444, 2.3), (5456, 3.8), (5468, 2.0), (5480, 3.2), (5492, 1.8), (5504, 3.0), (5516, 1.7),
      (5528, 3.1), (5540, 2.0), (5552, 3.5), (5564, 2.2), (5576, 3.9), (5588, 2.1), (5600, 3.2),
      (5612, 1.8), (5624, 3.0), (5636, 7.1), (5645, 1.5), (5655, 0.3), (5665, 2.3), (5677, 4.1),
      (5689, 2.2), (5701, 3.5), (5713, 1.9), (5725, 3.6), (5737, 2.0), (5749, 3.3), (5761, 1.7),
      (5773, 3.8), (5785, 2.1), (5797, 3.4), (5809, 1.6), (5821, 3.2), (5833, 1.9), (5845, 3.6),
      (5857, 1.0), (5869, 3.3), (5884, 3.6)]
sn95e_p0 = [(3840, -0.76), (3852, 1.98), (3864, 0.5), (3876, 1.6), (3888, 0.7), (3900, 1.42),
            (3914, 0.9), (3928, 2.88), (3940, 0.4), (3950, -0.28), (3962, 1.2), (3975, 0.5),
            (3993, 1.89), (4010, 0.6), (4031, 1.3), (4050, 0.66), (4070, 1.98), (4088, 1.0),
            (4108, 0.85), (4130, 1.3), (4165, 1.23), (4200, 0.5), (4242, -0.19), (4270, -0.7),
            (4299, -1.04), (4330, -0.5), (4356, -0.47), (4385, -0.9), (4413, -0.95), (4460, -0.3),
            (4509, 0.28), (4545, -0.1), (4585, 0.0), (4640, -0.6), (4700, -1.04), (4780, -1.6),
            (4853, -1.98), (4910, -1.7), (4967, -1.6), (5030, -1.5), (5082, -1.32), (5120, -1.4),
            (5158, -1.13), (5210, -1.6), (5273, -1.98), (5330, -1.9), (5388, -1.98), (5430, -1.75),
            (5464, -1.7), (5540, -1.85), (5617, -1.8), (5700, -2.0), (5770, -2.17), (5850, -1.95),
            (5922, -2.03), (5980, -2.3), (6037, -2.65), (6080, -3.0), (6113, -3.21), (6150, -2.9),
            (6190, -2.65), (6250, -2.3), (6304, -2.22), (6380, -2.35), (6457, -2.46), (6530, -2.6),
            (6610, -2.74), (6670, -2.8), (6725, -2.84)]


def flux_label(v, pos):
    n = int(round(v))
    if n == 0:
        return '0'
    sign = '-' if n < 0 else ''
    if abs(n) == 1:
        return sign + r'$\mathregular{10^{-18}}$'
    return sign + r'$\mathregular{%d{\times}10^{-18}}$' % abs(n)


fig = plt.figure(figsize=(15.28, 17.0), dpi=100)
fig.patch.set_facecolor(BG)

# rect, ylim, y major/minor step, label side, top edge, bottom edge,
# high-z spectrum, template, (x, y, text) for blue and pink labels
panels = [
    ([0.1525, 0.7641, 0.3455, 0.2300], (-3, 5), 2, 0.5, 'left', True, False, dy, sn92a_p2,
     (5500, 3.51, 'SN 2000dy\nz=0.611'), (4000, -2.30, 'SN 1992A\n(2 days)')),
    ([0.1525, 0.5341, 0.3455, 0.2300], (-2, 7), 2, 0.5, 'left', False, False, dz, sn94ae,
     (5500, 5.10, 'SN 2000dz\nz=0.504'), (3900, -1.37, 'SN 1994ae\n(2 days)')),
    ([0.1525, 0.3024, 0.3455, 0.2317], (-3, 5), 2, 0.5, 'left', False, False, ea, sn92a_m5,
     (5050, 3.93, 'SN 2000ea\nz=0.428'), (3900, -1.61, 'SN 1992A\n(-5 days)')),
    ([0.1525, 0.0729, 0.3455, 0.2295], (-3, 4), 2, 0.5, 'left', False, True, ec, sn90n,
     (5500, 3.51, 'SN 2000ec\nz=0.480'), (3900, -1.60, 'SN 1990N\n(-7 days)')),
    ([0.4980, 0.5324, 0.3449, 0.2317], (-3, 6), 2, 0.5, 'right', True, False, ee, sn92a_p5,
     (5510, 4.44, 'SN 2000ee\nz=0.468'), (3905, -1.06, 'SN 1992A\n(5 days)')),
    ([0.4980, 0.3018, 0.3449, 0.2306], (-2, 1.18), 1, 0.2, 'right', False, False, eg, sn95e_p8,
     (4200, 0.97, 'SN 2000eg\nz=0.541'), (3905, -1.63, 'SN 1995E\n(8 days)')),
    ([0.4980, 0.0729, 0.3449, 0.2289], (-3.55, 7.05), 2, 0.5, 'right', False, True, eh, sn95e_p0,
     (4300, 5.69, 'SN 2000eh\nz=0.48'), (3205, -1.96, 'SN 1995E\n(0 days)')),
]

for rect, ylim, ystep, ystep_minor, side, top_edge, bottom_edge, hiz, tmpl, blab, plab in panels:
    ax = fig.add_axes(rect)
    ax.set_facecolor('none')

    wl, fl = zip(*hiz)
    ax.plot(wl, fl, color=BLUE, lw=1.7)
    wl, fl = zip(*tmpl)
    ax.plot(wl, fl, color=PINK, lw=2.8)

    for (x, y, s), c in ((blab, BLUE_TXT), (plab, PINK_TXT)):
        ax.text(x, y, s, color=c, fontsize=23.5, ha='left', va='center', linespacing=0.92)

    ax.set_xlim(2800, 6800)
    ax.set_ylim(*ylim)
    ax.xaxis.set_major_locator(MultipleLocator(1000))
    ax.xaxis.set_minor_locator(MultipleLocator(200))
    ax.yaxis.set_major_locator(MultipleLocator(ystep))
    ax.yaxis.set_minor_locator(MultipleLocator(ystep_minor))
    ax.yaxis.set_major_formatter(FuncFormatter(flux_label))

    ax.spines['top'].set_visible(top_edge)
    ax.spines['bottom'].set_visible(bottom_edge)
    for sp in ax.spines.values():
        sp.set_linewidth(1.8)
        sp.set_color(INK)

    ax.tick_params(which='both', direction='in', color=INK, width=1.8,
                   labelcolor=INK, labelsize=26)
    ax.tick_params(which='major', length=29)
    ax.tick_params(which='minor', length=15)
    ax.tick_params(axis='y', which='both', left=True, right=True,
                   labelleft=(side == 'left'), labelright=(side == 'right'),
                   pad=14 if side == 'left' else 12)
    ax.tick_params(axis='x', which='both', top=top_edge, bottom=bottom_edge,
                   labeltop=False, labelbottom=bottom_edge, pad=17, labelsize=28)

ylab = r'F$_{\lambda}$ (erg s$^{-1}$ cm$^{-2}$ A$^{-1}$)'
fig.text(0.025, 0.4765, ylab, rotation=90, ha='center', va='center', fontsize=26, color=INK)
fig.text(0.9758, 0.477, ylab, rotation=-90, ha='center', va='center', fontsize=26, color=INK)
fig.text(0.3266, 0.0147, 'λ (Angstrom)', ha='center', va='center', fontsize=28.5, color=INK)
fig.text(0.6708, 0.0147, 'λ (Angstrom)', ha='center', va='center', fontsize=28.5, color=INK)

fig.savefig('out.png', dpi=100, facecolor=fig.get_facecolor())
